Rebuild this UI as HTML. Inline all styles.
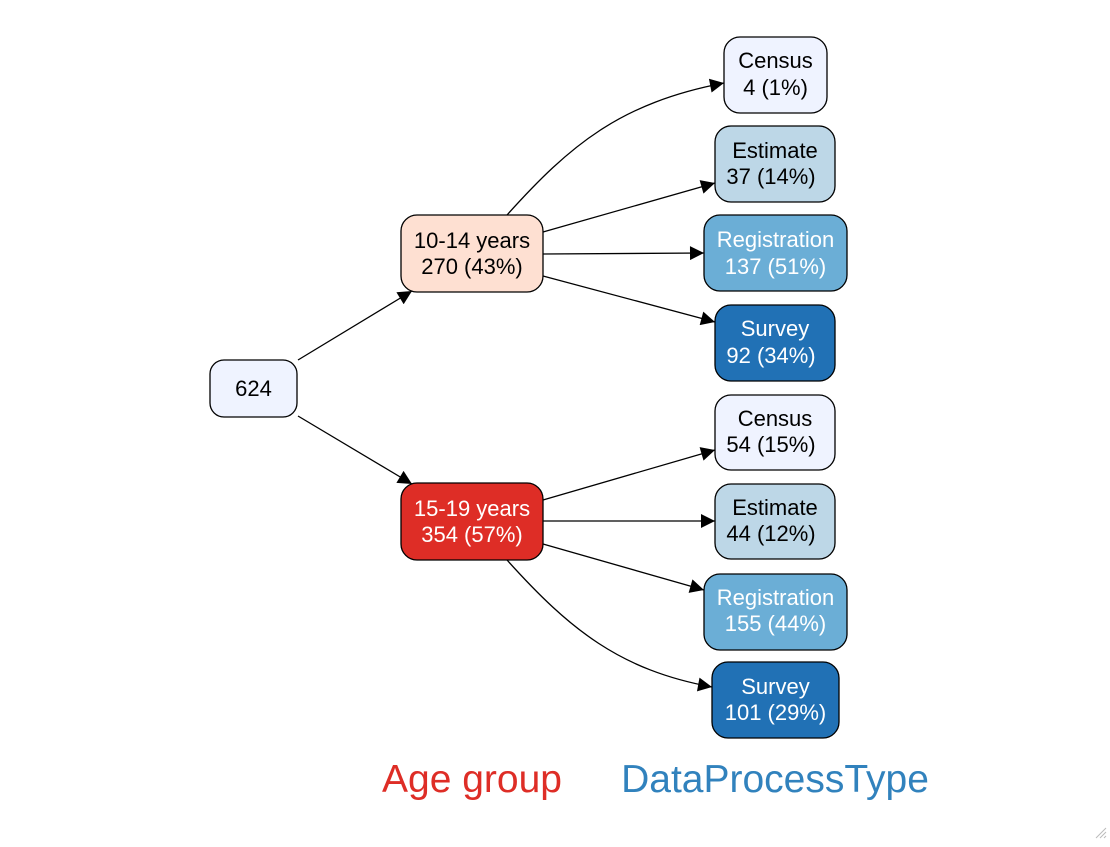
<!DOCTYPE html>
<html><head><meta charset="utf-8"><style>
body{margin:0;background:#fff;width:1110px;height:842px;overflow:hidden}
svg text{font-family:"Liberation Sans",Arial,sans-serif}
</style></head><body>
<svg width="1110" height="842" xmlns="http://www.w3.org/2000/svg">
<defs><marker id="a" viewBox="0 0 10 10" refX="10" refY="5" markerWidth="18" markerHeight="14" markerUnits="userSpaceOnUse" orient="auto"><path d="M0,0L10,5L0,10z" fill="#000"/></marker></defs>
<g stroke="#000" stroke-width="1.3" fill="none" marker-end="url(#a)">
<path d="M298,360L412,291"/>
<path d="M298,416L412,484"/>
<path d="M507,215C570,145 620,103 724,83"/>
<path d="M543,232L715,183"/>
<path d="M543,254L704,253"/>
<path d="M543,276L715,322"/>
<path d="M543,500L715,450"/>
<path d="M543,521L715,521"/>
<path d="M543,544L704,590"/>
<path d="M507,560C570,630 620,670 712,687"/>
</g>
<g stroke="#000" stroke-width="1.3">
<rect x="210" y="360" width="87" height="57" rx="14" fill="#eff3ff"/>
<rect x="401" y="215" width="142" height="77" rx="16" fill="#fee0d2"/>
<rect x="401" y="483" width="142" height="77" rx="16" fill="#de2d26"/>
<rect x="724" y="37" width="103" height="76" rx="16" fill="#eff3ff"/>
<rect x="715" y="126" width="120" height="76" rx="16" fill="#bdd7e7"/>
<rect x="704" y="215" width="143" height="76" rx="16" fill="#6baed6"/>
<rect x="715" y="305" width="120" height="76" rx="16" fill="#2171b5"/>
<rect x="715" y="395" width="120" height="75" rx="16" fill="#eff3ff"/>
<rect x="715" y="484" width="120" height="75" rx="16" fill="#bdd7e7"/>
<rect x="704" y="574" width="143" height="76" rx="16" fill="#6baed6"/>
<rect x="712" y="662" width="127" height="76" rx="16" fill="#2171b5"/>
</g>
<g font-size="22" text-anchor="middle">
<text x="253.5" y="396">624</text>
<text x="472" y="248">10-14 years</text><text x="472" y="274">270 (43%)</text>
<text x="472" y="516" fill="#fff">15-19 years</text><text x="472" y="542" fill="#fff">354 (57%)</text>
<text x="775.5" y="68">Census</text><text x="775.5" y="95">4 (1%)</text>
<text x="775" y="158">Estimate</text><text x="771" y="184">37 (14%)</text>
<text x="775.5" y="247" fill="#fff">Registration</text><text x="775.5" y="274" fill="#fff">137 (51%)</text>
<text x="775" y="336" fill="#fff">Survey</text><text x="771" y="363" fill="#fff">92 (34%)</text>
<text x="775" y="426">Census</text><text x="771" y="452">54 (15%)</text>
<text x="775" y="515">Estimate</text><text x="771" y="541">44 (12%)</text>
<text x="775.5" y="605" fill="#fff">Registration</text><text x="775.5" y="631" fill="#fff">155 (44%)</text>
<text x="775.5" y="694" fill="#fff">Survey</text><text x="775.5" y="720" fill="#fff">101 (29%)</text>
</g>
<text x="472" y="792" font-size="39" fill="#de2d26" text-anchor="middle">Age group</text>
<text x="775" y="792" font-size="39" fill="#3182bd" text-anchor="middle">DataProcessType</text>
<g stroke="#bbb" stroke-width="1"><path d="M1096,838L1106,828M1100,838L1106,832M1104,838L1106,836"/></g>
</svg>
</body></html>
